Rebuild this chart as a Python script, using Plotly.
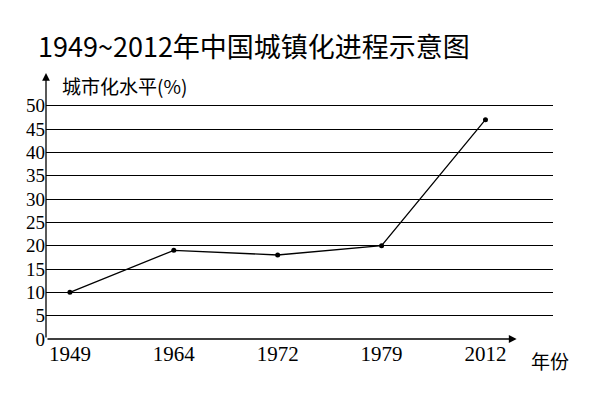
import plotly.graph_objects as go

years = ["1949", "1964", "1972", "1979", "2012"]
urban_rate = [10, 19, 18, 20, 47]
y_ticks = list(range(0, 55, 5))

serif = "Liberation Serif"
fig = go.Figure()
fig.add_trace(go.Scatter(
    x=list(range(len(years))), y=urban_rate, mode="lines+markers",
    line=dict(color="black", width=1.3), marker=dict(color="black", size=5),
    showlegend=False,
))

fig.update_layout(
    width=600, height=400, plot_bgcolor="white", paper_bgcolor="white",
    margin=dict(l=38, r=55, t=65, b=69),
    title=dict(text="1949~2012年中国城镇化进程示意图", x=0.05, y=0.9, xanchor="left",
               yanchor="middle",
               font=dict(family="Noto Sans CJK SC", size=27, color="black")),
    xaxis=dict(range=[-0.23, 4.65], tickvals=list(range(len(years))), ticktext=years,
               showgrid=False, zeroline=False, showline=False, ticks="",
               tickfont=dict(family=serif, size=21, color="black")),
    yaxis=dict(range=[0, 57], tickvals=y_ticks, showgrid=True, gridcolor="black",
               gridwidth=1.3, zeroline=False, showline=False, ticks="",
               tickfont=dict(family=serif, size=19, color="black")),
)
# axes with arrows
fig.add_annotation(x=4.3, y=0, ax=-0.23, ay=0, xref="x", yref="y", axref="x", ayref="y",
                   text="", showarrow=True, arrowhead=2, arrowsize=1.2, arrowwidth=1.3, arrowcolor="black")
fig.add_annotation(x=-0.23, y=57, ax=-0.23, ay=0, xref="x", yref="y", axref="x", ayref="y",
                   text="", showarrow=True, arrowhead=2, arrowsize=1.2, arrowwidth=1.3, arrowcolor="black")
fig.add_annotation(x=-0.1, y=54.3, xref="x", yref="y", text="城市化水平(%)", showarrow=False,
                   xanchor="left", yanchor="middle",
                   font=dict(family="Noto Sans CJK SC", size=19, color="black"))
fig.add_annotation(x=0.995, y=-0.08, xref="paper", yref="paper", text="年份", showarrow=False,
                   xanchor="center", yanchor="middle",
                   font=dict(family="Noto Sans CJK SC", size=19, color="black"))
fig.write_html("out.html")
